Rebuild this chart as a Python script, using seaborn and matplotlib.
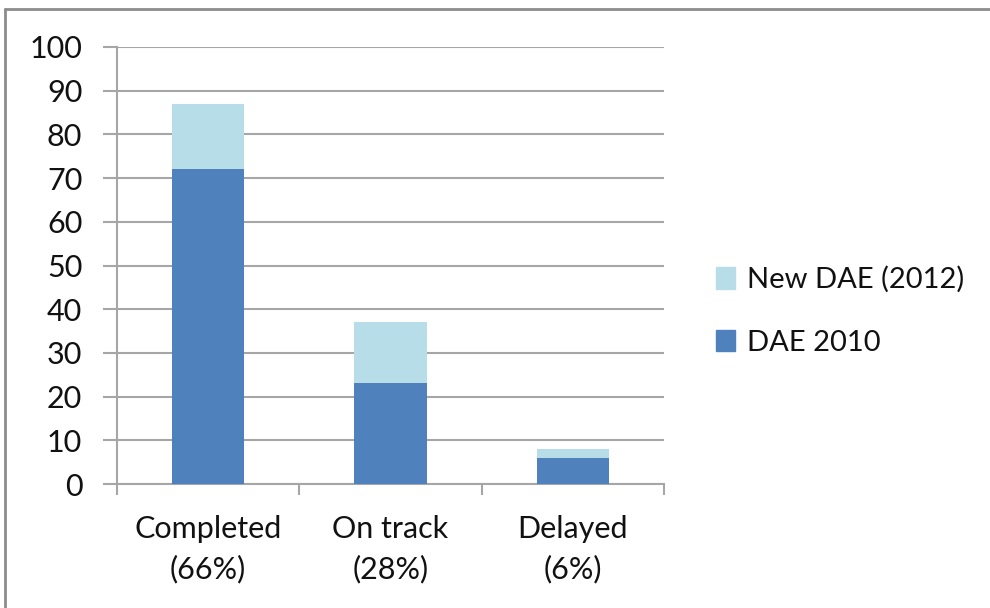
import pandas as pd
import matplotlib.pyplot as plt
import seaborn as sns
from matplotlib.lines import Line2D
from matplotlib.patches import Patch

# Data
categories = ["Completed\n(66%)", "On track\n(28%)", "Delayed\n(6%)"]
dae_2010 = [72, 23, 6]
new_dae_2012 = [15, 14, 2]

df = pd.DataFrame({"category": categories, "dae_2010": dae_2010, "new_dae": new_dae_2012})
df["total"] = df["dae_2010"] + df["new_dae"]

light = "#b7dde8"
dark = "#4f81bd"
grid_col = "#a6a6a6"

sns.set_theme(style="white")
plt.rcParams["font.family"] = ["Lato", "DejaVu Sans"]

fig = plt.figure(figsize=(9.9, 6.08), dpi=100)
ax = fig.add_axes([117 / 990, 1 - 484 / 608, 547 / 990, 437 / 608])

sns.barplot(data=df, x="category", y="total", color=light, saturation=1,
            width=0.395, linewidth=0, ax=ax, zorder=2)
sns.barplot(data=df, x="category", y="dae_2010", color=dark, saturation=1,
            width=0.395, linewidth=0, ax=ax, zorder=3)

ax.set_ylim(0, 100)
ax.set_xlim(-0.5, 2.5)
ax.set_yticks(range(0, 101, 10))
ax.set_xlabel("")
ax.set_ylabel("")
ax.yaxis.grid(True, color=grid_col, linewidth=1.5, zorder=0)
ax.set_axisbelow(True)

for side in ["top", "right"]:
    ax.spines[side].set_visible(False)
for side in ["left", "bottom"]:
    ax.spines[side].set_color(grid_col)
    ax.spines[side].set_linewidth(1.5)

ax.tick_params(axis="y", which="major", left=True, length=10, width=1.5,
               color=grid_col, labelsize=22, pad=15, labelcolor="#111111")
ax.tick_params(axis="x", which="major", bottom=False, labelsize=22, pad=16,
               labelcolor="#111111")
for lbl in ax.get_xticklabels():
    lbl.set_linespacing(1.5)
ax.set_xticks([-0.5, 0.5, 1.5, 2.5], minor=True)
ax.tick_params(axis="x", which="minor", bottom=True, length=8, width=1.5,
               color=grid_col)

handles = [Patch(facecolor=light, edgecolor=light), Patch(facecolor=dark, edgecolor=dark)]
fig.legend(handles, ["New DAE (2012)", "DAE 2010"], loc="center left",
           bbox_to_anchor=(690 / 990, 1 - 311 / 608), frameon=False,
           fontsize=21, handlelength=0.65, handleheight=0.75, labelspacing=1.25,
           handletextpad=0.4, labelcolor="#111111")

# outer chart frame (top and left edges visible)
fig.add_artist(Line2D([5 / 990, 5 / 990], [0, 1 - 9 / 608], color="#8c8c8c", linewidth=2))
fig.add_artist(Line2D([5 / 990, 1], [1 - 9 / 608, 1 - 9 / 608], color="#8c8c8c", linewidth=2))

plt.savefig("out.png", dpi=100)
